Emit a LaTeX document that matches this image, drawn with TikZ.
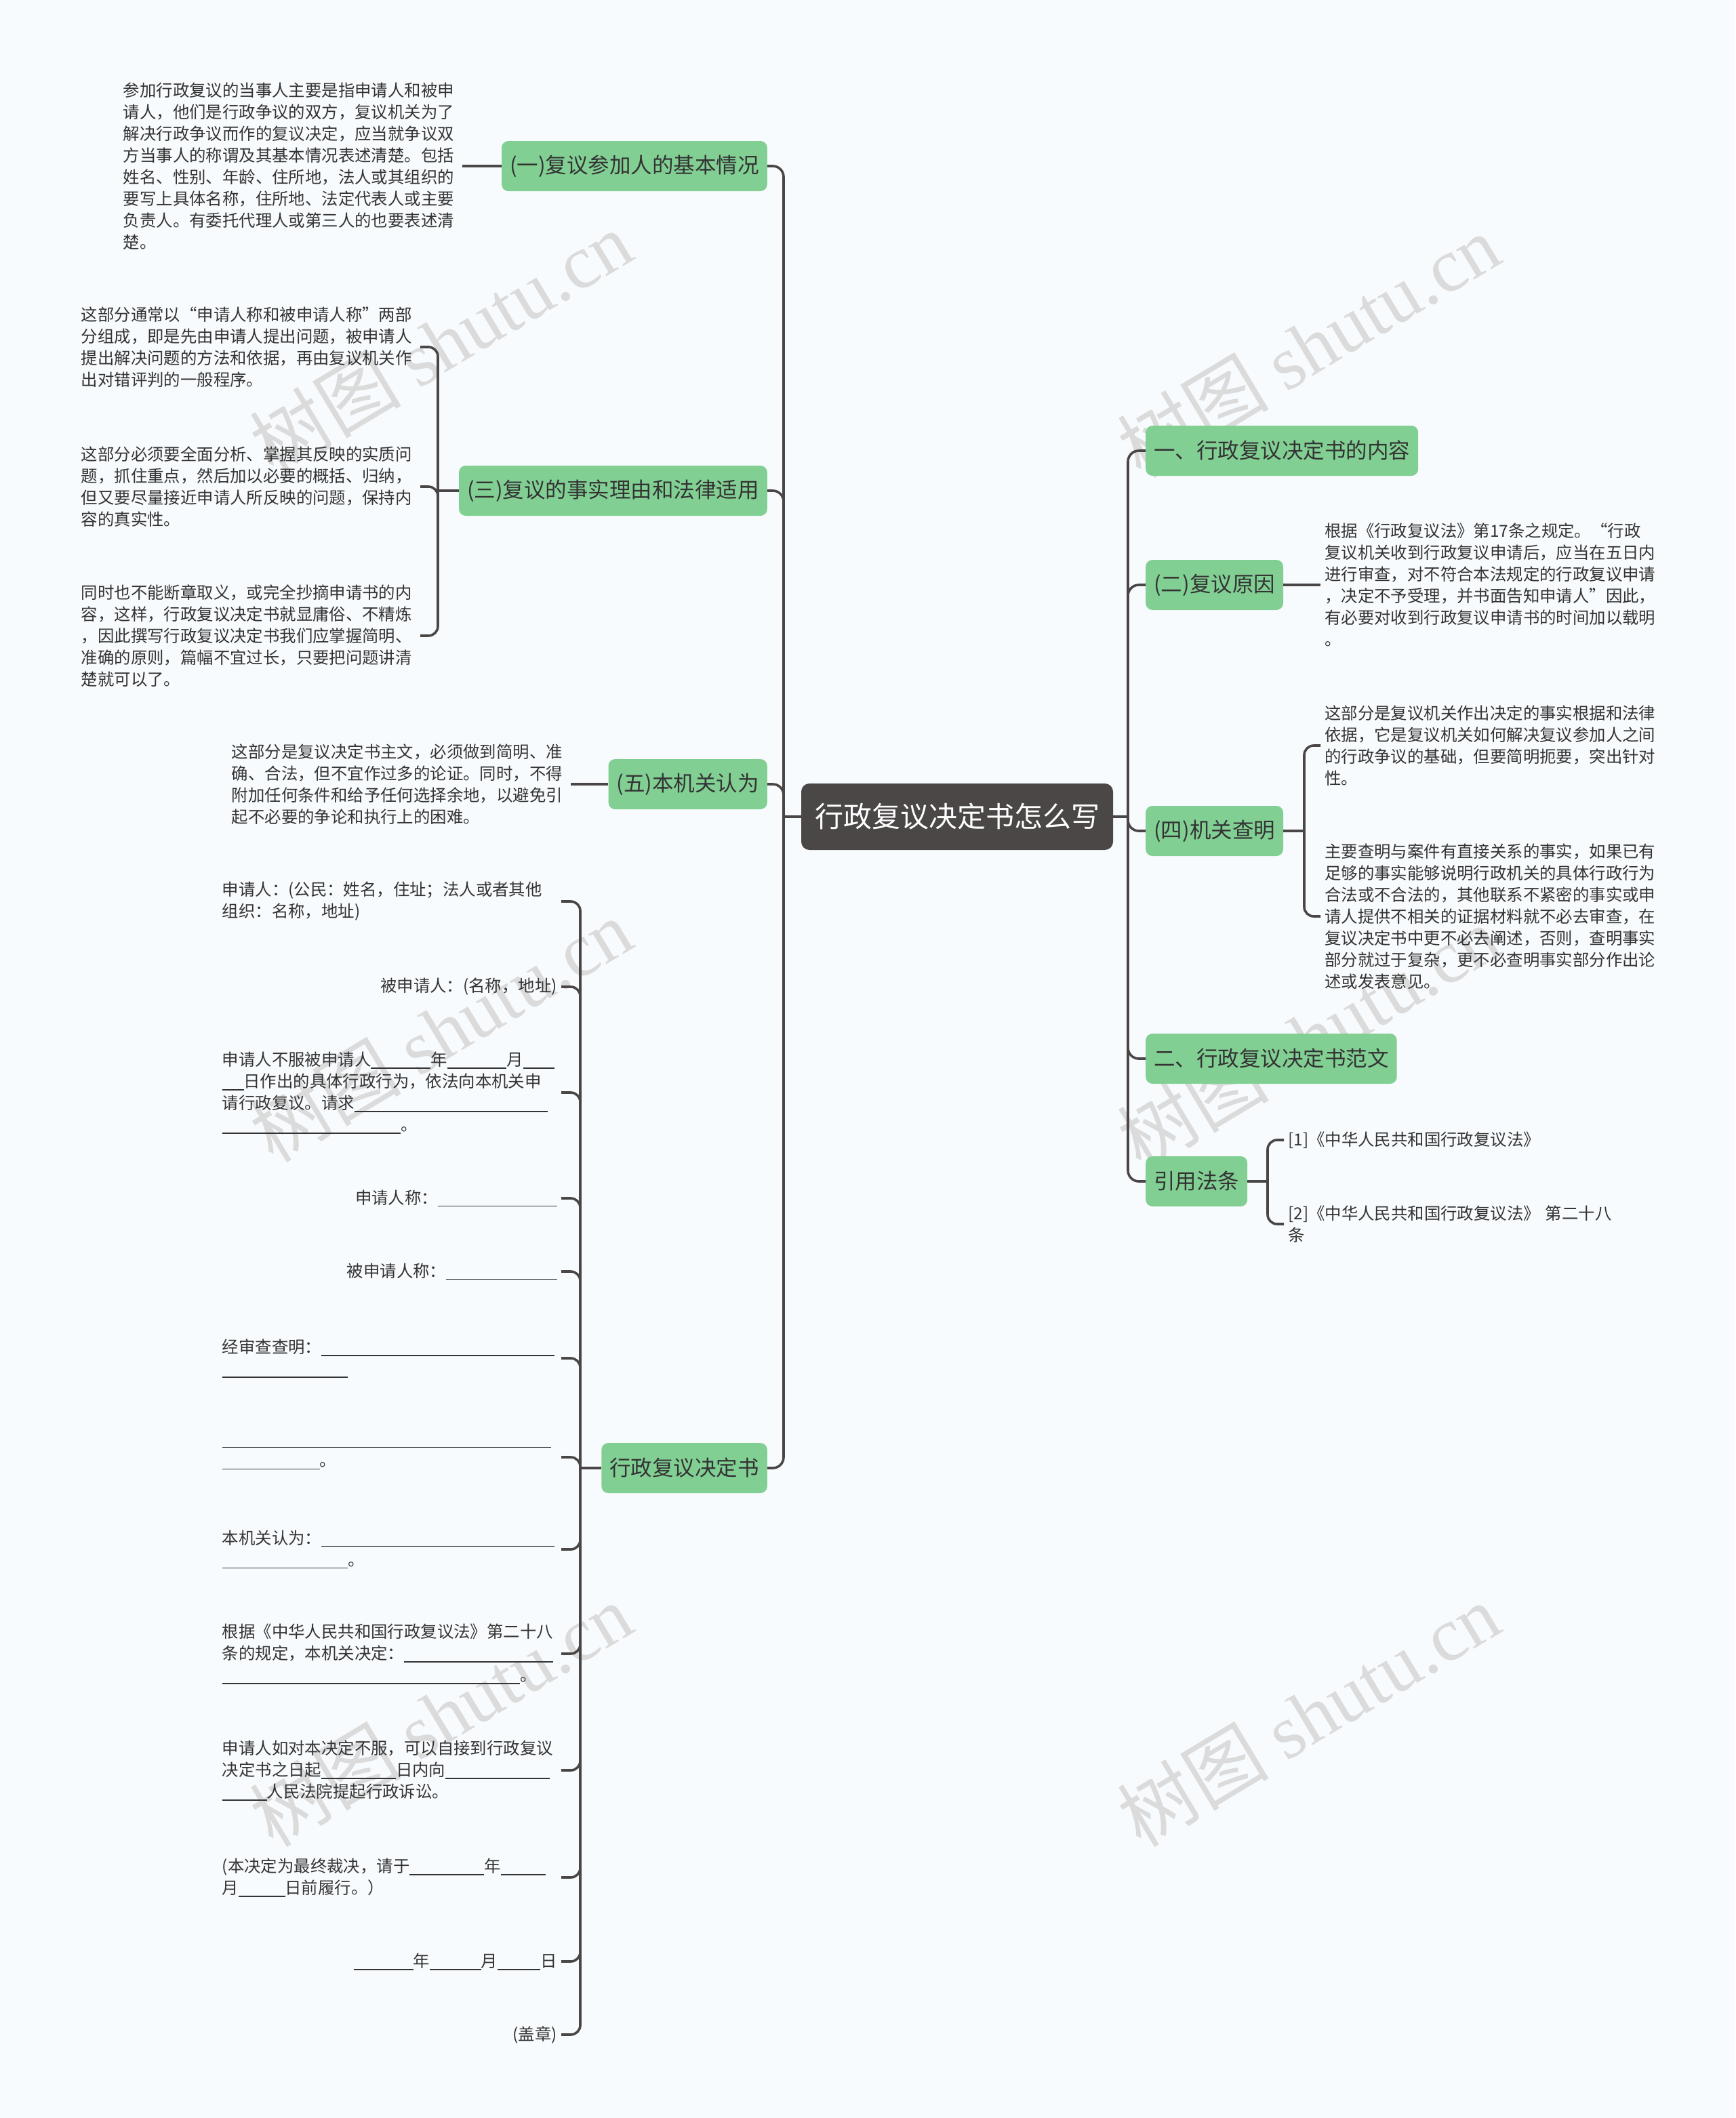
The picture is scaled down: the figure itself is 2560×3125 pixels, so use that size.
\documentclass[tikz,border=0pt]{standalone}
\usepackage{fontspec}
\setmainfont{Noto Sans CJK SC}
\newfontfamily\wmfont{Liberation Serif}
\usetikzlibrary{positioning}
\definecolor{bgc}{HTML}{F8FBFD}
\definecolor{rootc}{HTML}{4B4747}
\definecolor{topicc}{HTML}{82CF94}
\definecolor{linec}{HTML}{4A4646}
\definecolor{txtc}{HTML}{333333}
\newcommand{\fillin}[1]{\rule[-0.18em]{#1em}{0.05em}}
\tikzset{
  conn/.style={draw=linec,line width=3.6pt},
  rootbox/.style={rectangle,rounded corners=12pt,fill=rootc,text=white,minimum height=98pt,inner xsep=20pt,font=\fontsize{42}{50}\selectfont},
  topic/.style={rectangle,rounded corners=10pt,fill=topicc,text=txtc,minimum height=74pt,inner xsep=12pt,font=\fontsize{31.5}{37}\selectfont},
  shortleaf/.style={align=left,text=txtc,inner xsep=6pt,inner ysep=4pt,font=\fontsize{24.4}{32}\selectfont},
  leaf/.style={shortleaf,text width=494pt},
  wmark/.style={rotate=31,text=black!14,font=\fontsize{112}{116}\selectfont}
}

\begin{document}
\begin{tikzpicture}[x=1pt,y=-1pt]
\fill[bgc] (0,0) rectangle (2560,3125);
\useasboundingbox (0,0) rectangle (2560,3125);
\foreach \wx/\wy in {650/505,1930/510,650/1520,1930/1530,650/2530,1930/2530}
  \node[wmark] at (\wx,\wy) {树图 {\wmfont shutu.cn}};

\node[rootbox] (root) at (1412,1205) {行政复议决定书怎么写};

\node[topic,anchor=east] (a1) at (1132,245) {(一)复议参加人的基本情况};
\node[topic,anchor=east] (a3) at (1132,724) {(三)复议的事实理由和法律适用};
\node[topic,anchor=east] (a5) at (1132,1157) {(五)本机关认为};
\node[topic,anchor=east] (a7) at (1132,2166) {行政复议决定书};
\node[topic,anchor=west] (b1) at (1690,665) {一、行政复议决定书的内容};
\node[topic,anchor=west] (b2) at (1690,863) {(二)复议原因};
\node[topic,anchor=west] (b4) at (1690,1226) {(四)机关查明};
\node[topic,anchor=west] (b5) at (1690,1562) {二、行政复议决定书范文};
\node[topic,anchor=west] (b6) at (1690,1743) {引用法条};

\node[leaf,anchor=east] (t1) at (682,245) {参加行政复议的当事人主要是指申请人和被申\\请人，他们是行政争议的双方，复议机关为了\\解决行政争议而作的复议决定，应当就争议双\\方当事人的称谓及其基本情况表述清楚。包括\\姓名、性别、年龄、住所地，法人或其组织的\\要写上具体名称，住所地、法定代表人或主要\\负责人。有委托代理人或第三人的也要表述清\\楚。};
\node[leaf,anchor=east] (t3a) at (620,512) {这部分通常以“申请人称和被申请人称”两部\\分组成，即是先由申请人提出问题，被申请人\\提出解决问题的方法和依据，再由复议机关作\\出对错评判的一般程序。};
\node[leaf,anchor=east] (t3b) at (620,718) {这部分必须要全面分析、掌握其反映的实质问\\题，抓住重点，然后加以必要的概括、归纳，\\但又要尽量接近申请人所反映的问题，保持内\\容的真实性。};
\node[leaf,anchor=east] (t3c) at (620,938) {同时也不能断章取义，或完全抄摘申请书的内\\容，这样，行政复议决定书就显庸俗、不精炼\\，因此撰写行政复议决定书我们应掌握简明、\\准确的原则，篇幅不宜过长，只要把问题讲清\\楚就可以了。};
\node[leaf,anchor=east] (t5) at (842,1157) {这部分是复议决定书主文，必须做到简明、准\\确、合法，但不宜作过多的论证。同时，不得\\附加任何条件和给予任何选择余地，以避免引\\起不必要的争论和执行上的困难。};

\node[leaf,anchor=east] (s1) at (828,1330) {申请人：(公民：姓名，住址；法人或者其他\\组织：名称，地址)};
\node[shortleaf,anchor=east] (s2) at (828,1456) {被申请人：(名称，地址)};
\node[leaf,anchor=east] (s3) at (828,1612) {申请人不服被申请人\fillin{3.6}年\fillin{3.6}月\fillin{1.9}\\\fillin{1.3}日作出的具体行政行为，依法向本机关申\\请行政复议。请求\fillin{11.7}\\\fillin{10.8}。};
\node[shortleaf,anchor=east] (s4) at (828,1768) {申请人称：\fillin{7.2}};
\node[shortleaf,anchor=east] (s5) at (828,1876) {被申请人称：\fillin{6.7}};
\node[leaf,anchor=east] (s6) at (828,2004) {经审查查明：\fillin{14.1}\\\fillin{7.6}};
\node[leaf,anchor=east] (s7) at (828,2150) {\fillin{19.9}\\\fillin{5.9}。};
\node[leaf,anchor=east] (s8) at (828,2286) {本机关认为：\fillin{14.1}\\\fillin{7.6}。};
\node[leaf,anchor=east] (s9) at (828,2440) {根据《中华人民共和国行政复议法》第二十八\\条的规定，本机关决定：\fillin{9}\\\fillin{18}。};
\node[leaf,anchor=east] (s10) at (828,2612) {申请人如对本决定不服，可以自接到行政复议\\决定书之日起\fillin{4.5}日内向\fillin{6.3}\\\fillin{2.7}人民法院提起行政诉讼。};
\node[leaf,anchor=east] (s11) at (828,2770) {(本决定为最终裁决，请于\fillin{4.5}年\fillin{2.7}\\月\fillin{2.8}日前履行。）};
\node[shortleaf,anchor=east] (s12) at (828,2894) {\fillin{3.6}年\fillin{3.1}月\fillin{2.6}日};
\node[shortleaf,anchor=east] (s13) at (828,3002) {(盖章)};

\node[leaf,anchor=west] (r2) at (1948,863) {根据《行政复议法》第17条之规定。“行政\\复议机关收到行政复议申请后，应当在五日内\\进行审查，对不符合本法规定的行政复议申请\\，决定不予受理，并书面告知申请人”因此，\\有必要对收到行政复议申请书的时间加以载明\\。};
\node[leaf,anchor=west] (r4a) at (1948,1100) {这部分是复议机关作出决定的事实根据和法律\\依据，它是复议机关如何解决复议参加人之间\\的行政争议的基础，但要简明扼要，突出针对\\性。};
\node[leaf,anchor=west] (r4b) at (1948,1352) {主要查明与案件有直接关系的事实，如果已有\\足够的事实能够说明行政机关的具体行政行为\\合法或不合法的，其他联系不紧密的事实或申\\请人提供不相关的证据材料就不必去审查，在\\复议决定书中更不必去阐述，否则，查明事实\\部分就过于复杂，更不必查明事实部分作出论\\述或发表意见。};
\node[shortleaf,anchor=west] (r6a) at (1894,1682) {[1]《中华人民共和国行政复议法》};
\node[leaf,anchor=west] (r6b) at (1894,1806) {[2]《中华人民共和国行政复议法》 第二十八\\条};

\coordinate (lj) at (1156,1205);
\coordinate (rj) at (1664,1205);
\coordinate (k3) at (646,724);
\coordinate (k7) at (856,2166);
\coordinate (k4) at (1924,1226);
\coordinate (k6) at (1870,1743);

\draw[conn] (root.west) -- (lj);
\foreach \t in {a1,a3,a5,a7} \draw[conn,rounded corners=16pt] (lj) |- (\t.east);
\draw[conn] (root.east) -- (rj);
\foreach \t in {b1,b2,b4,b5,b6} \draw[conn,rounded corners=16pt] (rj) |- (\t.west);

\draw[conn] (a1.west) -- (t1.east);
\draw[conn] (a3.west) -- (k3);
\foreach \t in {t3a,t3b,t3c} \draw[conn,rounded corners=14pt] (k3) |- (\t.east);
\draw[conn] (a5.west) -- (t5.east);
\draw[conn] (a7.west) -- (k7);
\foreach \i in {1,...,13} \draw[conn,rounded corners=14pt] (k7) |- (s\i.east);
\draw[conn] (b2.east) -- (r2.west);
\draw[conn] (b4.east) -- (k4);
\foreach \t in {r4a,r4b} \draw[conn,rounded corners=14pt] (k4) |- (\t.west);
\draw[conn] (b6.east) -- (k6);
\foreach \t in {r6a,r6b} \draw[conn,rounded corners=14pt] (k6) |- (\t.west);
\end{tikzpicture}
\end{document}
